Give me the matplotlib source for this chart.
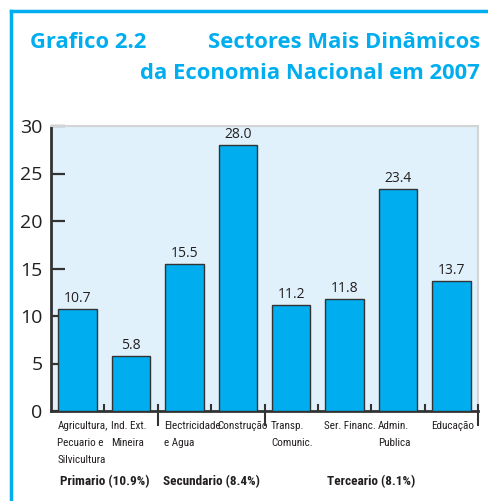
import matplotlib.pyplot as plt
from matplotlib.lines import Line2D

blue = '#00aeef'
ink = '#231f20'
narrow = ['Roboto Condensed', 'Open Sans Condensed', 'Liberation Sans Narrow',
          'Liberation Sans', 'DejaVu Sans']

sectors = ['Agricultura,\nPecuario e\nSilvicultura', 'Ind. Ext.\nMineira',
           'Electricidade\ne Agua', 'Construção',
           'Transp.\nComunic.', 'Ser. Financ.', 'Admin.\nPublica', 'Educação']
values = [10.7, 5.8, 15.5, 28.0, 11.2, 11.8, 23.4, 13.7]
groups = ['Primario (10.9%)', 'Secundario (8.4%)', 'Terceario (8.1%)']
group_span = [(0, 1), (2, 3), (4, 7)]

fig = plt.figure(figsize=(4.88, 5.01), dpi=100)
ax = fig.add_axes([51/488, 1-411/501, 427/488, 285/501])

x = list(range(len(values)))
ax.bar(x, values, width=0.72, color=blue, edgecolor='#333333', linewidth=1.0, zorder=3)
for xi, v in zip(x, values):
    ax.text(xi, v + 0.3, f'{v:.1f}', ha='center', va='bottom',
            fontsize=10, color=ink, family='Open Sans')

ax.set_xlim(-0.5, 7.5)
ax.set_ylim(0, 30)
ax.set_facecolor('#e0f1fb')
ax.set_yticks(range(0, 31, 5))
ax.tick_params(axis='y', direction='in', length=10, width=1.6, color='#333333',
               labelsize=14, labelcolor=ink, pad=6)
for lab in ax.get_yticklabels():
    lab.set_family('Open Sans')
ax.set_xticks([])
for s in ['top', 'right']:
    ax.spines[s].set_color('#d4d4d4')
    ax.spines[s].set_linewidth(1.5)
ax.spines['left'].set_color('#333333')
ax.spines['left'].set_linewidth(2)
ax.spines['bottom'].set_color('#333333')
ax.spines['bottom'].set_linewidth(2)

# small ticks between bars, long ones at group boundaries
trans = ax.get_xaxis_transform()
for b in [0.5, 2.5, 4.5, 5.5, 6.5]:
    ax.add_line(Line2D([b, b], [0, 0.021], transform=trans, color='#333333',
                       lw=1.5, clip_on=False, zorder=4))
for b in [1.5, 3.5, 7.5]:
    ax.add_line(Line2D([b, b], [-0.05, 0.021], transform=trans, color='#333333',
                       lw=1.5, clip_on=False, zorder=4))

# category labels under the bars
for xi, name in zip(x, sectors):
    ax.text(xi - 0.38, -0.035, name, transform=trans, ha='left', va='top',
            fontsize=8, color=ink, family=narrow, fontstretch='condensed',
            linespacing=1.9)

for (a, b), g in zip(group_span, groups):
    ax.text((a + b) / 2, -0.225, g, transform=trans, ha='center', va='top',
            fontsize=9.5, fontweight='bold', color=ink, family=narrow,
            fontstretch='condensed')

# title
fig.text(30/488, 1-32/501, 'Grafico 2.2', ha='left', va='top', fontsize=15.8,
         fontweight='bold', color=blue, family='Open Sans')
fig.text(480/488, 1-32/501, 'Sectores Mais Dinâmicos', ha='right', va='top',
         fontsize=15.8, fontweight='bold', color=blue, family='Open Sans')
fig.text(480/488, 1-63/501, 'da Economia Nacional em 2007', ha='right', va='top',
         fontsize=15.8, fontweight='bold', color=blue, family='Open Sans')

# frame
fig.add_artist(Line2D([11/488, 11/488], [0, 1-11/501], color=blue, lw=2.5,
                      transform=fig.transFigure))
fig.add_artist(Line2D([11/488, 1], [1-11/501, 1-11/501], color=blue, lw=2.5,
                      transform=fig.transFigure))

fig.savefig('out.png', dpi=100)
